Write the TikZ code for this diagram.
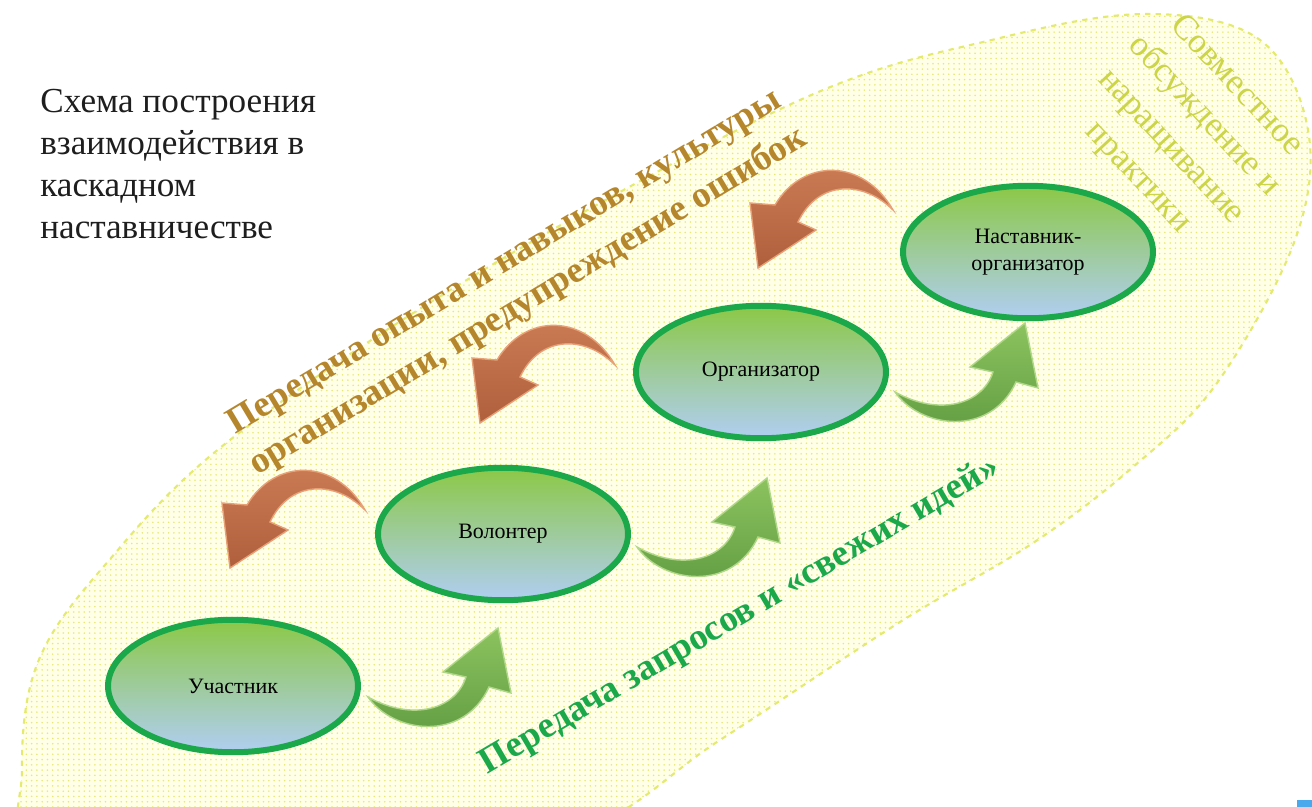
\documentclass[tikz,border=0pt]{standalone}
\usepackage{fontspec}
\setmainfont{Liberation Serif}
\usetikzlibrary{shapes.geometric,patterns}

\definecolor{nodegreen}{RGB}{26,168,74}
\definecolor{topgreen}{RGB}{140,200,70}
\definecolor{botblue}{RGB}{176,206,242}
\definecolor{knowbrown}{RGB}{182,134,44}
\definecolor{jointyellow}{RGB}{204,212,72}
\definecolor{bgfill}{RGB}{255,255,232}
\definecolor{bgdots}{RGB}{232,232,120}
\definecolor{bgedge}{RGB}{228,234,110}
\definecolor{titlegray}{RGB}{30,30,30}
\definecolor{cornerblue}{RGB}{74,168,236}
\definecolor{grEdge}{RGB}{175,215,135}
\definecolor{grTop}{RGB}{140,195,95}
\definecolor{grBot}{RGB}{95,155,65}
\definecolor{brEdge}{RGB}{232,160,118}
\definecolor{brTop}{RGB}{205,125,85}
\definecolor{brBot}{RGB}{175,95,60}

\tikzset{
  upgreen/.pic={
    \draw[line width=0.8pt,draw=grEdge,top color=grTop,bottom color=grBot]
      (0,0) .. controls (25,36) and (95,46) .. (121,-10) -- (143,-4) -- (130,-69)
      -- (75,-25) -- (98,-20) .. controls (88,12) and (45,25) .. (0,0) -- cycle;},
  backbrown/.pic={
    \draw[line width=0.8pt,draw=brEdge,top color=brTop,bottom color=brBot]
      (0,0) .. controls (-30,-52) and (-90,-52) .. (-118,-5) -- (-143,-7) -- (-135,58)
      -- (-77,20) -- (-95,12) .. controls (-75,-30) and (-30,-30) .. (0,0) -- cycle;}
}

\begin{document}
\begin{tikzpicture}[x=0.02cm,y=-0.02cm,
    stage/.style={ellipse,draw=nodegreen,line width=3.4pt,top color=topgreen,bottom color=botblue,
      minimum width=5cm,minimum height=2.65cm,inner sep=0pt,align=center,
      font=\fontsize{12.5}{15}\selectfont},
    flowtext/.style={align=center,font=\bfseries\fontsize{21}{26}\selectfont}]
  \useasboundingbox (0,0) rectangle (1312,807);
  \clip (0,0) rectangle (1312,807);
  % background field
  \fill[white] (0,0) rectangle (1312,807);
  \draw[bgedge,dashed,line width=1.2pt,preaction={fill=bgfill},pattern=dots,pattern color=bgdots]
    plot[smooth cycle,tension=0.6] coordinates {(22,770) (38,662) (105,565) (230,440) (480,272)
      (800,100) (1000,38) (1150,14) (1260,40) (1308,130) (1295,240) (1217,383) (1133,467)
      (1033,543) (900,622) (720,740) (560,840) (250,900) (40,860)};
  % title
  \node[anchor=north west,inner sep=0pt,align=left,text=titlegray,
    font=\fontsize{20}{23.8}\selectfont] (title) at (40,89)
    {Схема построения\\взаимодействия в\\каскадном\\наставничестве};
  % captions
  \node[flowtext,text=knowbrown,rotate=31] (know) at (517,283)
    {Передача опыта и навыков, культуры\\организации, предупреждение ошибок};
  \node[flowtext,text=nodegreen,rotate=30.4] (req) at (740,616)
    {Передача запросов и «свежих идей»};
  \node[align=center,text=jointyellow,rotate=-47,font=\fontsize{20}{25.5}\selectfont] (joint) at (1187,132)
    {Совместное\\обсуждение и\\наращивание\\практики};
  % arrows
  \pic at (368,697) {upgreen};
  \pic at (637,547) {upgreen};
  \pic at (895,392) {upgreen};
  \pic at (365,510) {backbrown};
  \pic at (615,365) {backbrown};
  \pic at (893,210) {backbrown};
  % stages
  \node[stage] (part) at (233,686) {Участник};
  \node[stage] (vol) at (503,534) {Волонтер};
  \node[stage] (org) at (761,372) {Организатор};
  \node[stage] (mentor) at (1028,252) {Наставник-\\организатор};
  \fill[cornerblue] (1297,800) rectangle (1312,807);
\end{tikzpicture}
\end{document}
